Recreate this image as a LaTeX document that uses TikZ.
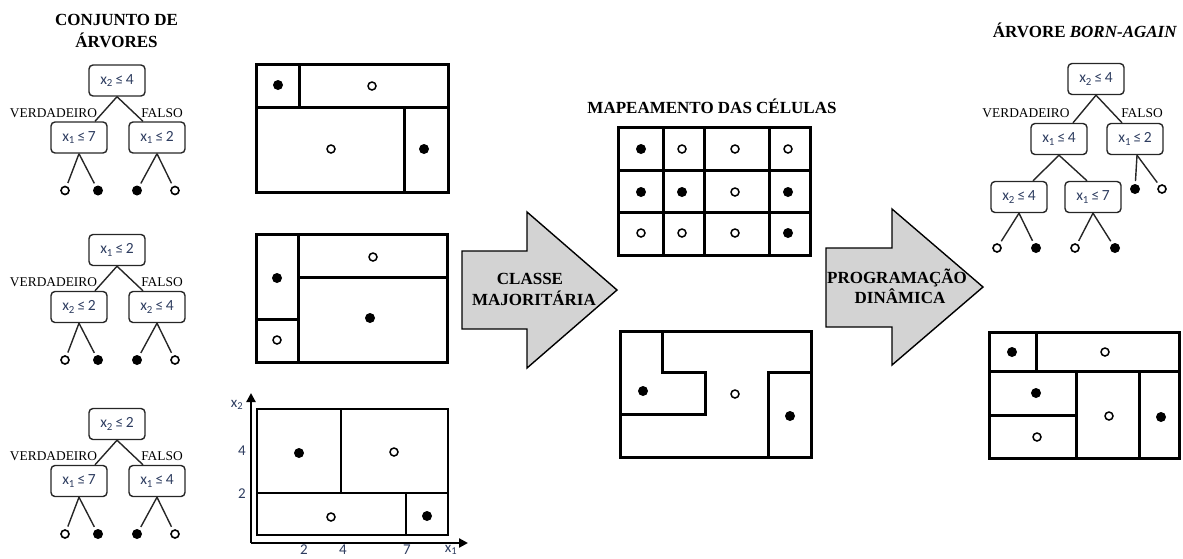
\documentclass[tikz,border=0pt]{standalone}
\usepackage{fontspec}
\setmainfont{Liberation Serif}
\newfontfamily\labfont{Carlito}
\usetikzlibrary{arrows.meta}
\definecolor{labblue}{RGB}{45,60,95}
\definecolor{arrowgray}{RGB}{211,211,211}

\tikzset{
  splitbox/.style={draw=black!85, rounded corners=4pt, line width=1.4pt,
    minimum width=56pt, minimum height=31pt, inner sep=0pt,
    font=\labfont\fontsize{15.5}{18}\selectfont, text=labblue},
  treeedge/.style={draw=black!85, line width=1.4pt},
  branchlab/.style={anchor=base, inner sep=0pt, font=\fontsize{13.4}{16}\selectfont},
  headlab/.style={anchor=base, inner sep=0pt, font=\bfseries\fontsize{17}{20}\selectfont},
  axislab/.style={inner sep=0pt, font=\labfont\fontsize{15}{17}\selectfont, text=labblue},
  leafw/.style={circle, draw=black, line width=1.6pt, fill=white,
    minimum size=8pt, inner sep=0pt, outer sep=4pt},
  leafb/.style={circle, fill=black, minimum size=10pt, inner sep=0pt, outer sep=3pt},
  dotw/.style={circle, draw=black, line width=1.5pt, fill=white,
    minimum size=8pt, inner sep=0pt},
  dotb/.style={circle, fill=black, minimum size=10pt, inner sep=0pt},
  cellwall/.style={draw=black, line width=3pt},
  thinwall/.style={draw=black, line width=2.2pt},
  bigarrow/.style={draw=black, line width=1.4pt, fill=arrowgray, line join=miter},
}

% split label: variable index and threshold
\newcommand{\cond}[2]{x\textsubscript{#1}\,≤\,#2}

% one tree of the ensemble: name prefix, root y, root / left / right tests
\newcommand{\ensembletree}[5]{%
  \node[splitbox] (#1r) at (117,#2) {#3};
  \node[splitbox] (#1a) at (79,#2+57) {#4};
  \node[splitbox] (#1b) at (157,#2+57) {#5};
  \draw[treeedge] (#1r.south) -- ([xshift=16pt]#1a.north);
  \draw[treeedge] (#1r.south) -- ([xshift=-14pt]#1b.north);
  \node[branchlab] (#1t) at (53.5,#2+36.5) {VERDADEIRO};
  \node[branchlab] (#1f) at (162,#2+36.5) {FALSO};
  \node[leafw] (#1l1) at (65,#2+110) {};
  \node[leafb] (#1l2) at (98,#2+110) {};
  \node[leafb] (#1l3) at (137,#2+110) {};
  \node[leafw] (#1l4) at (175,#2+110) {};
  \draw[treeedge] (#1a.south) -- (#1l1);
  \draw[treeedge] (#1a.south) -- (#1l2);
  \draw[treeedge] (#1b.south) -- (#1l3);
  \draw[treeedge] (#1b.south) -- (#1l4);
}

\begin{document}
\begin{tikzpicture}[x=1pt,y=-1pt]
\useasboundingbox (0,0) rectangle (1183,558);

% ---------- ensemble of trees ----------
\node[headlab] (ttl1) at (116.5,25) {CONJUNTO DE};
\node[headlab] (ttl2) at (116.5,47) {ÁRVORES};
\ensembletree{ta}{80.5}{\cond{2}{4}}{\cond{1}{7}}{\cond{1}{2}}
\ensembletree{tb}{250}{\cond{1}{2}}{\cond{2}{2}}{\cond{2}{4}}
\ensembletree{tc}{424}{\cond{2}{2}}{\cond{1}{7}}{\cond{1}{4}}

% ---------- regions of each tree ----------
% tree 1
\draw[cellwall] (256,64) rectangle (448,192);
\draw[cellwall] (256,107) -- (448,107);
\draw[cellwall] (299,64) -- (299,107);
\draw[cellwall] (404,107) -- (404,192);
\node[dotb] (pa1) at (278,85) {};
\node[dotw] (pa2) at (372,86) {};
\node[dotw] (pa3) at (331,149) {};
\node[dotb] (pa4) at (424,149) {};
% tree 2
\draw[cellwall] (256,234) rectangle (447,362);
\draw[cellwall] (298,234) -- (298,362);
\draw[cellwall] (256,319) -- (298,319);
\draw[cellwall] (298,277) -- (447,277);
\node[dotb] (pb1) at (277,278) {};
\node[dotw] (pb2) at (277,340) {};
\node[dotw] (pb3) at (373,257) {};
\node[dotb] (pb4) at (370,318) {};
% tree 3 with axes
\coordinate (orig) at (251,543);
\coordinate (ytip) at (251,393);
\coordinate (xtip) at (468,543);
\draw[thinwall, -{Triangle[length=9pt,width=9pt]}] (orig) -- (ytip);
\draw[thinwall, -{Triangle[length=9pt,width=9pt]}] (orig) -- (xtip);
\draw[thinwall] (257,409) rectangle (448,535);
\draw[thinwall] (257,493) -- (448,493);
\draw[thinwall] (341,409) -- (341,493);
\draw[thinwall] (406,493) -- (406,535);
\node[dotb] (pc1) at (299,453) {};
\node[dotw] (pc2) at (394,452) {};
\node[dotw] (pc3) at (331,517) {};
\node[dotb] (pc4) at (427,516) {};
\node[axislab] (ax2) at (237,405) {x\textsubscript{2}};
\node[axislab] (ay4) at (242,451) {4};
\node[axislab] (ay2) at (242,494) {2};
\node[axislab] (axa) at (304,550) {2};
\node[axislab] (axb) at (343,550) {4};
\node[axislab] (axc) at (407,550) {7};
\node[axislab] (ax1) at (451,550) {x\textsubscript{1}};

% ---------- majority class arrow ----------
\draw[bigarrow] (462,251) -- (527,251) -- (527,212) -- (617,290) -- (527,368)
  -- (527,329) -- (462,329) -- cycle;
\node[headlab] (mj1) at (530,284) {CLASSE};
\node[headlab] (mj2) at (534,305) {MAJORITÁRIA};

% ---------- cell mapping ----------
\node[headlab] (mapt) at (712,113) {MAPEAMENTO DAS CÉLULAS};
\draw[cellwall] (618,127) rectangle (810,255);
\foreach \gx in {663,704,769} \draw[cellwall] (\gx,127) -- (\gx,255);
\foreach \gy in {170,212} \draw[cellwall] (618,\gy) -- (810,\gy);
\node[dotb] (g11) at (641,149) {};
\node[dotw] (g12) at (682,149) {};
\node[dotw] (g13) at (735,149) {};
\node[dotw] (g14) at (788,149) {};
\node[dotb] (g21) at (641,192) {};
\node[dotb] (g22) at (682,192) {};
\node[dotw] (g23) at (735,192) {};
\node[dotb] (g24) at (788,192) {};
\node[dotw] (g31) at (641,233) {};
\node[dotw] (g32) at (682,233) {};
\node[dotw] (g33) at (735,233) {};
\node[dotb] (g34) at (788,233) {};

% merged regions
\draw[cellwall] (620,331) rectangle (811,457);
\draw[cellwall, line join=miter] (662,331) -- (662,372) -- (705,372) -- (705,414) -- (620,414);
\draw[cellwall, line join=miter] (768,457) -- (768,372) -- (811,372);
\node[dotb] (m1) at (643,391) {};
\node[dotw] (m2) at (735,394) {};
\node[dotb] (m3) at (790,416) {};

% ---------- dynamic programming arrow ----------
\draw[bigarrow] (826,248) -- (892,248) -- (892,209) -- (983,287) -- (892,365)
  -- (892,327) -- (826,327) -- cycle;
\node[headlab] (dp1) at (897,283) {PROGRAMAÇÃO};
\node[headlab] (dp2) at (900,303) {DINÂMICA};

% ---------- born-again tree ----------
\node[headlab] (bat) at (1085,37) {ÁRVORE \textit{BORN-AGAIN}};
\node[splitbox] (br) at (1096,79) {\cond{2}{4}};
\node[splitbox] (ba) at (1059,139) {\cond{1}{4}};
\node[splitbox] (bb) at (1135,139) {\cond{1}{2}};
\node[splitbox] (baa) at (1019,197) {\cond{2}{4}};
\node[splitbox] (bab) at (1093,197) {\cond{1}{7}};
\draw[treeedge] (br.south) -- ([xshift=14pt]ba.north);
\draw[treeedge] (br.south) -- ([xshift=-13pt]bb.north);
\draw[treeedge] (ba.south) -- ([xshift=14pt]baa.north);
\draw[treeedge] (ba.south) -- ([xshift=-6pt]bab.north);
\node[branchlab] (bt) at (1026,117) {VERDADEIRO};
\node[branchlab] (bf) at (1142,117) {FALSO};
\node[leafb] (bl1) at (1135,189) {};
\node[leafw] (bl2) at (1162,189) {};
\node[leafw] (bl3) at (997,248) {};
\node[leafb] (bl4) at (1036,248) {};
\node[leafw] (bl5) at (1075,248) {};
\node[leafb] (bl6) at (1115,248) {};
\draw[treeedge] ([xshift=2pt]bb.south) -- (bl1);
\draw[treeedge] ([xshift=2pt]bb.south) -- (bl2);
\draw[treeedge] (baa.south) -- (bl3);
\draw[treeedge] (baa.south) -- (bl4);
\draw[treeedge] (bab.south) -- (bl5);
\draw[treeedge] (bab.south) -- (bl6);

% born-again regions
\draw[cellwall] (989,332) rectangle (1179,458);
\draw[cellwall] (989,371) -- (1179,371);
\draw[cellwall] (1036,332) -- (1036,371);
\draw[cellwall] (1076,371) -- (1076,458);
\draw[cellwall] (1139,371) -- (1139,458);
\draw[cellwall] (989,415) -- (1076,415);
\node[dotb] (r1) at (1012,352) {};
\node[dotw] (r2) at (1105,352) {};
\node[dotb] (r3) at (1036,393) {};
\node[dotw] (r4) at (1037,437) {};
\node[dotw] (r5) at (1109,416) {};
\node[dotb] (r6) at (1161,417) {};
\end{tikzpicture}
\end{document}
